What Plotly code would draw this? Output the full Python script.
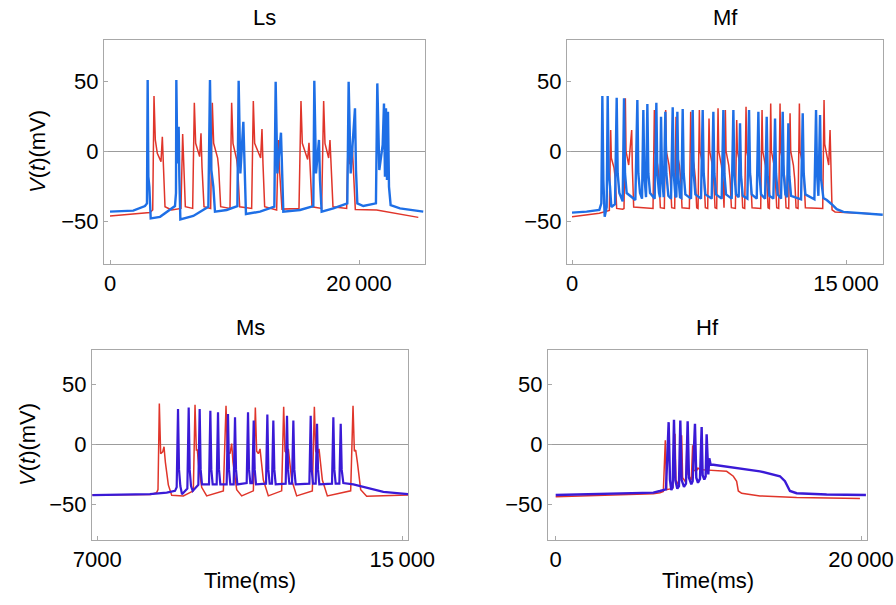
import plotly.graph_objects as go

# membrane potential traces, (time ms, V mV)
ls_red = [(0, -46.4), (3210, -44.0), (3430, -42.1), (3534, 39.3), (3640, 7.9), (3800, -1.7), (4096, -7.6),
          (4203, 10.2), (4283, -8.8), (4417, -39.8), (4950, -42.1), (5700, -41.0), (5836, 12.1), (5943, -11.2),
          (6050, -39.8), (6640, -41.0), (6773, 34.5), (6880, 5.5), (7200, -4.0), (7308, 12.6), (7388, -11.2),
          (7550, -39.8), (8085, -41.0), (8218, 34.5), (8325, 5.5), (8646, -5.0), (8727, -12.0), (8888, -39.8),
          (9637, -41.0), (9771, 34.5), (9878, 5.5), (10173, -6.0), (10253, -12.0), (10414, -39.8), (11377, -41.0),
          (11511, 35.7), (11618, 5.5), (12100, -5.0), (12207, 15.7), (12287, -9.0), (12421, -39.8), (13385, -42.1),
          (13519, 7.9), (13626, -15.0), (13813, -41.5), (15179, -41.0), (15339, 35.7), (15446, 5.5), (15875, -6.0),
          (15982, 5.9), (16062, -11.2), (16223, -39.8), (17000, -41.0), (17160, 35.7), (17267, 5.5), (17561, -5.0),
          (17668, 7.9), (17749, -11.2), (17909, -39.8), (19007, -41.0), (19141, 15.0), (19248, -8.8), (19382, -10.0),
          (19462, 3.1), (19542, -16.0), (19703, -41.7), (21416, -42.1), (24762, -47.4)]
ls_blue = [(0, -43.3), (1870, -42.6), (2810, -39.3), (2970, -37.4), (3025, 50.7), (3080, -18.3), (3160, -25.5),
           (3270, -48.1), (4020, -47.0), (5220, -39.3), (5300, -30.0), (5327, 50.7), (5410, -8.8), (5515, 17.4),
           (5570, -18.3), (5650, -48.8), (6690, -46.4), (7900, -39.8), (8030, 50.7), (8140, -13.6), (8300, -25.5),
           (8430, -43.3), (9370, -42.1), (10230, -39.3), (10333, 50.2), (10470, -16.0), (10710, 20.9), (10815, -18.3),
           (10920, -45.0), (12050, -43.3), (13200, -39.8), (13305, 49.5), (13440, -16.0), (13733, 13.1),
           (13813, -18.3), (13920, -43.3), (15260, -42.1), (16330, -39.3), (16410, 50.2), (16545, -16.0),
           (16785, 7.9), (16865, -20.7), (17000, -43.3), (17940, -41.0), (19060, -37.4), (19167, 49.5),
           (19330, -16.0), (19676, 30.5), (19757, -13.6), (19864, -37.4), (20345, -39.3), (21360, -37.4),
           (21470, 48.3), (21630, -13.6), (21900, 4.3), (22005, 34.0), (22085, -18.3), (22166, 30.5), (22246, -20.7),
           (22327, 28.1), (22407, -25.5), (22540, -38.6), (23290, -41.0), (25160, -43.3)]

mf_red = [(0, -47.0), (1497, -44.5), (2044, -42.5), (2117, 15.0), (2153, -5.0), (2300, -12.0), (2372, -20.0),
          (2445, -41.0), (2774, -41.5), (2847, -41.0), (2920, 37.6), (2956, 0.0), (3103, -10.0), (3267, 15.0),
          (3303, -12.0), (3376, -40.0), (4435, -41.0), (4508, 29.3), (4544, 0.0), (4690, -10.0), (4763, -20.0),
          (4836, -40.5), (5055, -41.0), (5128, 29.3), (5165, 0.0), (5311, -10.0), (5384, -20.0), (5457, -40.5),
          (5621, -41.0), (5694, 24.5), (5731, 0.0), (5877, -10.0), (5950, -20.0), (6023, -40.5), (6424, -41.0),
          (6497, 28.1), (6534, 0.0), (6680, -10.0), (6753, -20.0), (6826, -40.5), (6899, -41.0), (6972, 29.3),
          (7008, 0.0), (7154, -10.0), (7227, -20.0), (7300, -40.5), (7428, -41.0), (7500, 23.3), (7537, 0.0),
          (7683, -10.0), (7756, -20.0), (7829, -40.5), (7920, -41.0), (7994, 30.5), (8030, 0.0), (8176, -10.0),
          (8250, -20.0), (8322, -40.5), (8395, 29.3), (8432, 0.0), (8578, -10.0), (8651, -20.0), (8724, -40.5),
          (8943, -41.0), (9016, 22.1), (9052, 0.0), (9198, -10.0), (9271, -20.0), (9344, -40.5), (9454, -41.0),
          (9527, 31.7), (9564, 0.0), (9710, -10.0), (9783, -20.0), (9856, -40.5), (10330, -41.0), (10403, 29.3),
          (10440, 0.0), (10586, -10.0), (10659, -20.0), (10732, -40.5), (10804, -41.0), (10877, 34.0),
          (10914, 0.0), (11060, -10.0), (11133, -20.0), (11206, -40.5), (11315, -41.0), (11388, 34.0), (11425, 0.0),
          (11571, -10.0), (11644, -20.0), (11717, -40.5), (11863, -41.0), (11936, 26.9), (11972, 0.0),
          (12118, -10.0), (12191, -20.0), (12264, -40.5), (12374, -41.0), (12447, 34.0), (12483, 0.0),
          (12630, -10.0), (12702, -20.0), (12775, -40.5), (13724, -41.0), (13797, 36.4), (13833, 5.0),
          (13979, -5.0), (14052, -10.0), (14126, 15.0), (14162, -10.0), (14235, -42.0), (14400, -43.5),
          (15768, -44.5), (16700, -45.0)]
mf_blue = [(0, -44.0), (800, -43.3), (1497, -42.1), (1606, -37.4), (1661, 39.3), (1716, -20.7), (1789, -47.0),
           (1898, -40.0), (1953, 39.3), (2008, -16.0), (2081, -25.5), (2154, -40.0), (2354, -38.0), (2446, 38.0),
           (2500, -16.0), (2592, -30.0), (2774, -36.0), (2847, 37.6), (2902, -16.0), (2993, -30.0), (3468, -35.0),
           (3577, 36.4), (3632, -16.0), (3723, -30.0), (3833, -34.0), (3905, 29.3), (3960, -18.0), (4052, -33.0),
           (4125, 33.6), (4179, -16.0), (4271, -30.0), (4526, -34.0), (4617, 34.5), (4672, -16.0), (4763, -30.0),
           (4818, -33.0), (4873, 24.5), (4928, -18.0), (5019, -33.0), (5110, 28.1), (5165, -16.0), (5274, -32.0),
           (5420, -34.0), (5512, 31.2), (5566, -16.0), (5658, -32.0), (5712, -33.0), (5767, 28.1), (5822, -18.0),
           (5913, -33.0), (5986, -33.5), (6059, 30.0), (6114, -16.0), (6205, -31.0), (6515, -34.0), (6607, 29.3),
           (6661, -16.0), (6753, -31.0), (7063, -34.0), (7154, 29.3), (7209, -16.0), (7300, -31.0), (7647, -34.0),
           (7738, 28.1), (7793, -16.0), (7884, -31.0), (8194, -34.0), (8286, 29.3), (8340, -16.0), (8432, -31.0),
           (8742, -34.0), (8833, 29.3), (8888, -16.0), (8979, -31.0), (9125, -33.0), (9198, 19.8), (9253, -18.0),
           (9344, -32.0), (9600, -34.0), (9691, 29.3), (9746, -16.0), (9837, -31.0), (10111, -34.0), (10202, 28.1),
           (10257, -16.0), (10348, -31.0), (10567, -34.0), (10658, 24.5), (10713, -18.0), (10804, -32.0),
           (11023, -34.0), (11114, 23.3), (11169, -16.0), (11260, -31.0), (11443, -34.0), (11534, 28.1),
           (11589, -16.0), (11680, -31.0), (11771, -33.0), (11844, 19.8), (11899, -18.0), (11990, -32.0),
           (12538, -34.5), (12629, 26.9), (12684, -16.0), (12775, -31.0), (13268, -34.5), (13359, 29.3),
           (13414, -16.0), (13487, -32.0), (13578, 25.7), (13633, -20.0), (13760, -33.5), (13943, -35.0),
           (14217, -38.0), (14491, -41.5), (14856, -43.5), (15768, -44.5), (17009, -45.5)]

ms_red = [(6870, -42.5), (8400, -42.0), (8557, -40.5), (8592, -38.0), (8627, 33.8), (8662, -8.0), (8715, -6.5),
          (8750, -2.2), (8785, -15.0), (8863, -34.0), (8951, -42.7), (9257, -43.2), (9519, -39.0), (9563, 32.8),
          (9598, -5.0), (9624, -5.0), (9659, -18.0), (9738, -36.0), (9869, -43.2), (10306, -39.0), (10376, 32.0),
          (10411, -6.0), (10481, -8.0), (10524, 0.5), (10559, -15.0), (10656, -38.0), (10787, -43.2),
          (11093, -39.0), (11145, 30.6), (11180, -6.0), (11224, -8.0), (11268, -4.0), (11355, -30.0),
          (11486, -43.2), (11836, -39.0), (11888, 31.1), (11923, -6.0), (11967, -8.0), (12011, -4.0),
          (12098, -30.0), (12229, -43.2), (12640, -39.0), (12693, 31.1), (12728, -6.0), (12771, -8.0),
          (12815, -4.0), (12903, -30.0), (13034, -43.2), (13646, -39.0), (13707, 31.9), (13742, -6.0),
          (13777, -5.0), (13821, -15.0), (13908, -38.0), (14065, -43.5), (14590, -43.0), (15150, -42.5)]
ms_blue = [(6870, -42.5), (8380, -41.8), (8820, -40.5), (9038, -39.0), (9082, -36.0), (9117, 29.2), (9143, -21.3),
           (9178, -35.0), (9222, -41.8), (9362, -37.0), (9397, 30.6), (9423, -21.3), (9458, -35.0), (9502, -39.1),
           (9650, -34.0), (9685, 29.2), (9711, -21.3), (9746, -33.6), (9930, -33.6), (9965, 27.8), (9991, -21.3),
           (10026, -33.6), (10131, -33.6), (10166, 26.5), (10192, -21.3), (10227, -33.6), (10393, -33.6),
           (10428, 25.1), (10454, -21.3), (10489, -33.6), (10577, -33.6), (10612, 22.4), (10638, -21.3),
           (10673, -33.6), (10918, -32.5), (10953, 26.5), (10979, -21.3), (11014, -32.5), (11067, -32.5),
           (11102, 19.6), (11128, -21.3), (11163, -33.6), (11425, -33.0), (11460, 24.6), (11486, -21.3),
           (11521, -33.0), (11582, -33.0), (11617, 19.6), (11643, -21.3), (11679, -33.6), (11941, -33.0),
           (11976, 23.7), (12002, -21.3), (12037, -33.0), (12107, -33.0), (12142, 19.6), (12168, -21.3),
           (12203, -33.6), (12562, -33.0), (12597, 23.7), (12623, -21.3), (12658, -33.0), (12728, -33.0),
           (12763, 16.9), (12789, -21.3), (12824, -33.6), (13156, -33.0), (13191, 22.4), (13217, -21.3),
           (13252, -33.0), (13349, -33.0), (13384, 16.9), (13410, -21.3), (13453, -32.5), (13715, -33.6),
           (14065, -36.5), (14503, -39.9), (15150, -41.8)]

hf_red = [(0, -44.0), (6394, -41.5), (6831, -40.5), (7049, -39.5), (7180, 3.2), (7224, -30.0), (7268, -38.0),
          (7661, -37.0), (7813, 8.7), (7879, -30.0), (8075, -35.0), (8250, 7.3), (8315, -28.0), (8534, -32.0),
          (8599, 3.2), (8665, -25.0), (8883, -30.0), (8970, -0.9), (9036, -22.0), (9232, -22.0), (9320, -20.0),
          (9451, -21.3), (11197, -22.7), (11634, -26.8), (11852, -31.0), (11961, -39.1), (12179, -41.0),
          (13380, -43.2), (15781, -44.6), (19929, -45.4)]
hf_blue = [(0, -42.4), (6394, -40.5), (6831, -39.1), (7224, -37.7), (7399, 18.3), (7486, -30.0), (7573, -38.3),
           (7661, -36.0), (7748, 20.2), (7835, -30.0), (7966, -37.2), (8075, -35.0), (8163, 19.6), (8250, -30.0),
           (8403, -35.6), (8534, -33.0), (8643, 19.1), (8730, -28.0), (8883, -33.6), (8970, -31.0), (9123, 16.9),
           (9210, -28.0), (9320, -32.3), (9451, -29.0), (9560, 14.2), (9625, -26.0), (9734, -29.5), (9822, -27.0),
           (9887, 8.2), (9953, -24.0), (9996, -25.4), (10062, -11.8), (10149, -17.2), (10324, -17.2),
           (11197, -18.6), (13380, -22.7), (14690, -26.8), (15017, -30.9), (15345, -39.1), (15781, -41.0),
           (17746, -42.0), (20320, -42.4)]

panel_titles = ["Ls", "Mf", "Ms", "Hf"]
x_tickvals = [[0, 20000], [0, 15000], [7000, 15000], [0, 20000]]
x_ticktext = [["0", "20\u2009000"], ["0", "15\u2009000"], ["7000", "15\u2009000"], ["0", "20\u2009000"]]
y_tickvals = [-50, 0, 50]

RED = "#e0352a"
BLUE_TOP = "#1e6fe6"
BLUE_BOT = "#3a1ad6"
FONT = "Liberation Sans, Arial, sans-serif"
W, H = 896, 605

# frame boxes in pixels: left, right, top, bottom
frames = [(104, 425, 40, 264), (567, 883, 40, 264), (92, 408, 350, 540), (548, 867, 350, 540)]
x_ranges = [[-482, 25300], [-274, 17024], [6861, 15149], [-504, 20391]]
y_ranges = [[-80.7, 79.3], [-80.7, 79.3], [-80.0, 78.5], [-80.0, 78.5]]
traces = [(ls_red, ls_blue, BLUE_TOP, 2.4), (mf_red, mf_blue, BLUE_TOP, 2.4),
          (ms_red, ms_blue, BLUE_BOT, 2.2), (hf_red, hf_blue, BLUE_BOT, 2.4)]


def px(x):
    return x / W


def py(y):
    return 1 - y / H


fig = go.Figure()
layout = dict(width=W, height=H, margin=dict(l=0, r=0, t=0, b=0, autoexpand=False), showlegend=False,
              paper_bgcolor="white", plot_bgcolor="white", hovermode=False, annotations=[])
text_font = dict(family=FONT, size=22, color="black")

for i in range(4):
    n = "" if i == 0 else str(i + 1)
    red, blue, bcol, bw = traces[i]
    for pts, col, lw in [(red, RED, 1.5), (blue, bcol, bw)]:
        fig.add_trace(go.Scatter(x=[p[0] for p in pts], y=[p[1] for p in pts], mode="lines",
                                 line=dict(color=col, width=lw), xaxis="x" + n, yaxis="y" + n))
    l, r, t, b = frames[i]
    common = dict(showline=True, mirror=True, linecolor="#a8a8a8", linewidth=1, ticks="inside", ticklen=4,
                  tickcolor="#a8a8a8", showgrid=False, automargin=False, tickfont=text_font)
    layout["xaxis" + n] = dict(common, domain=[px(l), px(r)], range=x_ranges[i], anchor="y" + n,
                               zeroline=False, tickvals=x_tickvals[i], ticktext=x_ticktext[i])
    layout["yaxis" + n] = dict(common, domain=[py(b), py(t)], range=y_ranges[i], anchor="x" + n,
                               zeroline=True, zerolinecolor="#9c9c9c", zerolinewidth=1, tickvals=y_tickvals)
    layout["annotations"].append(dict(text=panel_titles[i], x=px((l + r) / 2), y=py(t - 22),
                                      xref="paper", yref="paper", showarrow=False,
                                      xanchor="center", yanchor="middle", font=text_font))
    if i % 2 == 0:
        layout["annotations"].append(dict(text="<i>V</i>(<i>t</i>)(mV)", x=px(l - 66 if i == 0 else l - 65),
                                          y=py((t + b) / 2), xref="paper", yref="paper", showarrow=False,
                                          xanchor="center", yanchor="middle", textangle=-90, font=text_font))
    if i >= 2:
        layout["annotations"].append(dict(text="Time(ms)", x=px((l + r) / 2), y=py(580),
                                          xref="paper", yref="paper", showarrow=False,
                                          xanchor="center", yanchor="middle", font=text_font))

fig.update_layout(**layout)
# drop the default page margin so the figure sits in the window corner
fig.write_html("out.html", config={"displayModeBar": False},
               post_script="document.body.style.margin='0';")
